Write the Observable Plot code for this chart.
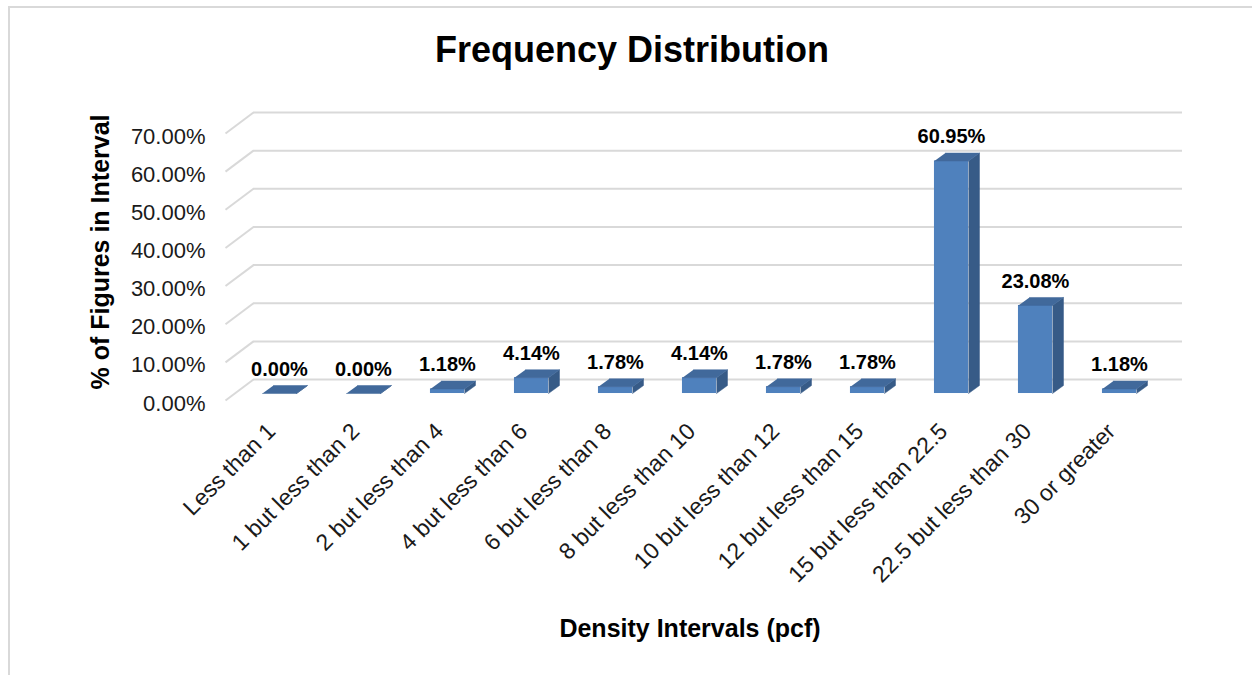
<!DOCTYPE html>
<html>
<head>
<meta charset="utf-8">
<script src="https://cdn.jsdelivr.net/npm/d3@7"></script>
<script src="https://cdn.jsdelivr.net/npm/@observablehq/plot@0.6"></script>
<style>
  html, body { margin: 0; padding: 0; background: #fff; overflow: hidden; width: 1252px; height: 675px; }
  body { position: relative; font-family: 'Liberation Sans', Arial, sans-serif; }
  #frame { position: absolute; left: 8px; top: 6px; width: 2000px; height: 2000px;
           border-left: 2px solid #d9d9d9; border-top: 2px solid #d9d9d9; box-sizing: border-box; }
  #chart { position: absolute; left: 0; top: 0; }
  .t { position: absolute; white-space: nowrap; line-height: 1; font-weight: bold; color: #000; }
  #title { left: 632px; top: 50px; font-size: 36px; transform: translate(-50%, -50%); }
  #ytitle { left: 100px; top: 252px; font-size: 25px; transform: translate(-50%, -50%) rotate(-90deg); }
  #xtitle { left: 690px; top: 628px; font-size: 25px; transform: translate(-50%, -50%); }
</style>
</head>
<body>
<div id="frame"></div>
<div id="chart"></div>
<div class="t" id="title"></div>
<div class="t" id="ytitle"></div>
<div class="t" id="xtitle"></div>
<script>
const categories = [
  "Less than 1", "1 but less than 2", "2 but less than 4", "4 but less than 6",
  "6 but less than 8", "8 but less than 10", "10 but less than 12", "12 but less than 15",
  "15 but less than 22.5", "22.5 but less than 30", "30 or greater"
];
const values = [0.00, 0.00, 1.18, 4.14, 1.78, 4.14, 1.78, 1.78, 60.95, 23.08, 1.18];
const yTicks = [0, 10, 20, 30, 40, 50, 60, 70];

const title = "Frequency Distribution";
const yTitle = "% of Figures in Interval";
const xTitle = "Density Intervals (pcf)";

document.getElementById("title").textContent = title;
document.getElementById("ytitle").textContent = yTitle;
document.getElementById("xtitle").textContent = xTitle;

// pseudo-3D geometry (in data units)
const DX = 0.333, DY = 5.5;          // depth of the back wall
const BX = 0.44, BW = 0.405;         // bar front face offset and width within a category
const BZ = 1.83;                     // bar front face lift (depth position)
const BDX = 0.131, BDY = 2.1;        // bar depth

const FRONT = "#4f81bd", TOP = "#41699b", SIDE = "#375b87";

const bars = categories.map((c, i) => ({c, i, v: values[i]}));
const topPts = bars.flatMap(d => {
  const xl = d.i + BX, xr = xl + BW, y = d.v + BZ;
  return [[xl, y], [xr, y], [xr + BDX, y + BDY], [xl + BDX, y + BDY]].map(([x, yy]) => ({i: d.i, x, y: yy}));
});
const sidePts = bars.flatMap(d => {
  const xr = d.i + BX + BW;
  return [[xr, BZ], [xr + BDX, BZ + BDY], [xr + BDX, d.v + BZ + BDY], [xr, d.v + BZ]].map(([x, y]) => ({i: d.i, x, y}));
});

const n = categories.length;
const chart = Plot.plot({
  width: 1252,
  height: 675,
  marginLeft: 225,
  marginRight: 103,
  marginTop: 133,
  marginBottom: 275,
  style: {fontFamily: "'Liberation Sans', Arial, sans-serif", background: "transparent", overflow: "visible", color: "#000"},
  x: {domain: [0, n], axis: null},
  y: {domain: [0, 70], axis: null},
  marks: [
    // back wall gridlines
    Plot.ruleY(yTicks, {y: d => d + DY, x1: DX, x2: n + DX + 0.06, stroke: "#d9d9d9", strokeWidth: 2}),
    // side wall diagonals
    Plot.link(yTicks, {x1: 0, y1: d => d, x2: DX, y2: d => d + DY, stroke: "#d9d9d9", strokeWidth: 2}),
    // y tick labels
    Plot.axisY(yTicks, {tickSize: 0, tickPadding: 20, tickFormat: d => d.toFixed(2) + "%", fontSize: 22, dy: 3, label: null, fill: "#1a1a1a"}),
    // bars
    Plot.line(sidePts, {x: "x", y: "y", z: "i", fill: SIDE, stroke: SIDE, strokeWidth: 0.5}),
    Plot.rect(bars, {x1: d => d.i + BX, x2: d => d.i + BX + BW, y1: BZ, y2: d => d.v + BZ, fill: FRONT}),
    Plot.line(topPts, {x: "x", y: "y", z: "i", fill: TOP, stroke: TOP, strokeWidth: 0.5}),
    // value labels
    Plot.text(bars, {x: d => d.i + BX + BW / 2, y: "v", text: d => d.v.toFixed(2) + "%", fontWeight: "bold", fontSize: 20, dy: -31, fill: "#000"}),
    // category labels
    Plot.text(bars, {x: d => d.i + 0.5, y: 0, text: "c", rotate: -45, textAnchor: "end", dx: 4, dy: 27, fontSize: 23, fill: "#1a1a1a"})
  ]
});
document.getElementById("chart").appendChild(chart);
</script>
</body>
</html>
